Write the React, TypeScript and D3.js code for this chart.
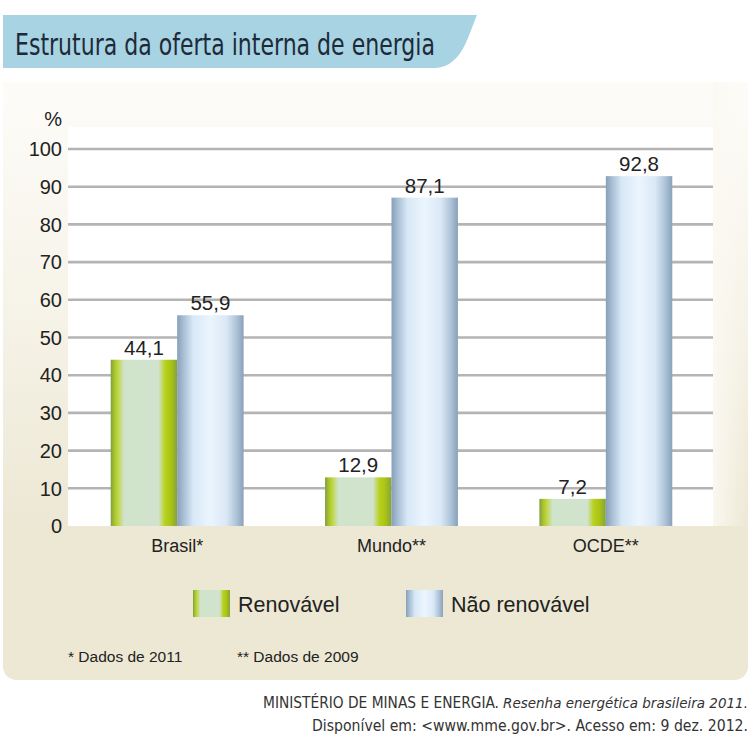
import * as d3 from 'd3'

const categories = ['Brasil*', 'Mundo**', 'OCDE**']
const seriesNames = ['Renovável', 'Não renovável']
const renovavel = [44.1, 12.9, 7.2]
const naoRenovavel = [55.9, 87.1, 92.8]
const yTicks = [0, 10, 20, 30, 40, 50, 60, 70, 80, 90, 100]
const footnotes = ['* Dados de 2011', '** Dados de 2009']

const W = 753
const H = 736
const PLOT = { left: 68, right: 713, top: 127, bottom: 526 }

const ptBR = d3.formatLocale({ decimal: ',', thousands: '.', grouping: [3], currency: ['R$', ''] })
const fmt = ptBR.format('.1f')

const SANS = 'Arial, "Liberation Sans", Helvetica, sans-serif'
const NARROW = '"Liberation Sans Narrow", "DejaVu Sans Condensed", "Roboto Condensed", sans-serif'

export default function App() {
  const x = d3.scaleBand<string>().domain(categories).range([70, PLOT.right]).paddingInner(0.38).paddingOuter(0.19)
  const xSub = d3.scaleBand<string>().domain(seriesNames).range([0, x.bandwidth()])
  const y = d3.scaleLinear().domain([0, 100]).range([PLOT.bottom, 149])

  const rows = categories.map((c, i) => ({ cat: c, values: [renovavel[i], naoRenovavel[i]] }))
  const fills = ['url(#gradGreen)', 'url(#gradBlue)']

  return (
    <svg width={W} height={H} style={{ display: 'block', position: 'absolute', left: 0, top: 0 }}>
      <defs>
        <linearGradient id="gradGreen" x1="0" x2="1" y1="0" y2="0">
          <stop offset="0%" stopColor="#7f9c48" />
          <stop offset="5%" stopColor="#a4c02a" />
          <stop offset="10%" stopColor="#bcd43a" />
          <stop offset="20%" stopColor="#d0e3cb" />
          <stop offset="72%" stopColor="#d1e3cc" />
          <stop offset="82%" stopColor="#b7d01c" />
          <stop offset="90%" stopColor="#abc514" />
          <stop offset="100%" stopColor="#86a23c" />
        </linearGradient>
        <linearGradient id="gradBlue" x1="0" x2="1" y1="0" y2="0">
          <stop offset="0%" stopColor="#879fb8" />
          <stop offset="10%" stopColor="#aac0d6" />
          <stop offset="24%" stopColor="#d8e8f6" />
          <stop offset="50%" stopColor="#ebf5fe" />
          <stop offset="74%" stopColor="#dbe8f5" />
          <stop offset="88%" stopColor="#b1c7db" />
          <stop offset="100%" stopColor="#89a1ba" />
        </linearGradient>
        <linearGradient id="panelGrad" gradientUnits="userSpaceOnUse" x1="0" y1="82" x2="0" y2={PLOT.bottom}>
          <stop offset="0%" stopColor="#fdfcf9" />
          <stop offset="45%" stopColor="#f7f4ea" />
          <stop offset="100%" stopColor="#ede8d4" />
        </linearGradient>
        <linearGradient id="sideGrad" gradientUnits="userSpaceOnUse" x1={PLOT.right} y1="0" x2="748" y2="0">
          <stop offset="0%" stopColor="#fbf9f2" stopOpacity={0.9} />
          <stop offset="100%" stopColor="#fbf9f2" stopOpacity={0} />
        </linearGradient>
      </defs>

      <rect width={W} height={H} fill="#ffffff" />

      {/* painel bege */}
      <path d="M3,82 H748 V664 Q748,680 732,680 H19 Q3,680 3,664 Z" fill="url(#panelGrad)" />
      <rect x={PLOT.right} y={82} width={35} height={PLOT.bottom - 82} fill="url(#sideGrad)" />
      <path d={`M3,${PLOT.bottom} H748 V664 Q748,680 732,680 H19 Q3,680 3,664 Z`} fill="#ede8d3" />

      {/* faixa do título */}
      <path d="M3,15 H477 C468,36 462,66 436,68 H3 Z" fill="#a7d3e3" />
      <text x={15} y={55} fontFamily={NARROW} fontSize={31} fill="#1e2a38" textLength={420} lengthAdjust="spacingAndGlyphs">
        Estrutura da oferta interna de energia
      </text>

      {/* área do gráfico */}
      <rect x={PLOT.left} y={PLOT.top} width={PLOT.right - PLOT.left} height={PLOT.bottom - PLOT.top} fill="#ffffff" />

      {yTicks.filter((t) => t > 0).map((t) => (
        <line key={t} x1={PLOT.left} x2={PLOT.right} y1={y(t)} y2={y(t)} stroke="#b4b4b4" strokeWidth={2.6} />
      ))}

      {yTicks.map((t) => (
        <text key={t} x={62} y={y(t)} dy="0.36em" textAnchor="end" fontFamily={SANS} fontSize={20} fill="#222">
          {t}
        </text>
      ))}
      <text x={62} y={126} textAnchor="end" fontFamily={SANS} fontSize={20} fill="#222">
        %
      </text>

      {rows.map((r) => (
        <g key={r.cat} transform={`translate(${x(r.cat)},0)`}>
          {r.values.map((v, j) => (
            <g key={j}>
              <rect x={xSub(seriesNames[j])} y={y(v)} width={xSub.bandwidth()} height={y(0) - y(v)} fill={fills[j]} />
              <text
                x={(xSub(seriesNames[j]) ?? 0) + xSub.bandwidth() / 2}
                y={y(v) - 5}
                textAnchor="middle"
                fontFamily={SANS}
                fontSize={20.5}
                fill="#222"
              >
                {fmt(v)}
              </text>
            </g>
          ))}
          <text x={x.bandwidth() / 2} y={552} textAnchor="middle" fontFamily={SANS} fontSize={18} fill="#222">
            {r.cat}
          </text>
        </g>
      ))}

      {/* legenda */}
      {seriesNames.map((s, j) => {
        const lx = j === 0 ? 193 : 406
        return (
          <g key={s}>
            <rect x={lx} y={590} width={37} height={27} fill={fills[j]} />
            <text x={lx + 45} y={612} fontFamily={SANS} fontSize={21.5} fill="#222">
              {s}
            </text>
          </g>
        )
      })}

      {/* notas */}
      {footnotes.map((f, i) => (
        <text key={f} x={i === 0 ? 68 : 237} y={662} fontFamily={SANS} fontSize={15.5} fill="#222">
          {f}
        </text>
      ))}

      {/* fonte */}
      <text x={263} y={708} fontFamily={NARROW} fontSize={15.5} fill="#333" textLength={236} lengthAdjust="spacingAndGlyphs">
        MINISTÉRIO DE MINAS E ENERGIA.
      </text>
      <text x={503} y={708} fontFamily={NARROW} fontSize={14.5} fontStyle="italic" fill="#333" textLength={245} lengthAdjust="spacingAndGlyphs">
        Resenha energética brasileira 2011.
      </text>
      <text x={312} y={731} fontFamily={NARROW} fontSize={15.5} fill="#333" textLength={436} lengthAdjust="spacingAndGlyphs">
        Disponível em: &lt;www.mme.gov.br&gt;. Acesso em: 9 dez. 2012.
      </text>
    </svg>
  )
}
